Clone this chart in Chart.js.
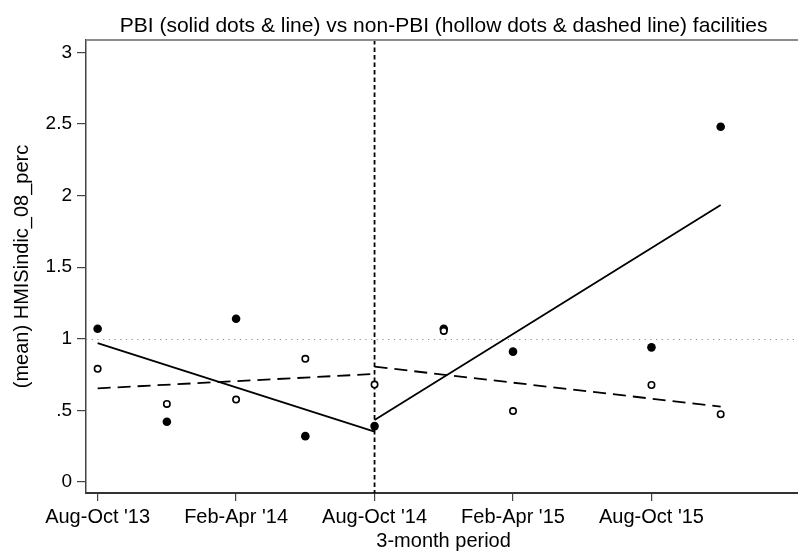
<!DOCTYPE html>
<html>
<head>
<meta charset="utf-8">
<title>HMISindic_08_perc by 3-month period</title>
<script src="https://cdn.jsdelivr.net/npm/chart.js@4.4.1/dist/chart.umd.min.js"></script>
<style>
  html, body { margin: 0; padding: 0; background: #fff; overflow: hidden; }
  #wrap { width: 798px; height: 551px; overflow: hidden; }
  canvas { display: block; }
</style>
</head>
<body>
<div id="wrap"><canvas id="chart" width="806" height="551"></canvas></div>
<script>
// 3-month periods, numbered from Aug-Oct '13 (0) to Nov-Jan '16 (9)
const periodIndex = [0, 1, 2, 3, 4, 5, 6, 7, 8, 9];

// Period means (null = no observation in that period)
const pbiMean    = [1.07, 0.42, 1.14, 0.32, 0.39, 1.07, 0.91, null, 0.94, 2.48];
const nonPbiMean = [0.79, 0.545, 0.575, 0.86, 0.68, 1.055, 0.495, null, 0.677, 0.473];

// Linear fits before and after the start of PBI (period 4)
const fitPrePeriods  = [0, 4];
const fitPostPeriods = [4, 9];
const pbiFitPre     = [0.969, 0.351];
const pbiFitPost    = [0.433, 1.934];
const nonPbiFitPre  = [0.654, 0.754];
const nonPbiFitPost = [0.805, 0.526];

// Reference lines
const interventionPeriod = 4;
const referenceLevel = 1;

// Axis ticks
const xTickPeriods = [0, 2, 4, 6, 8];
const xTickLabels  = ["Aug-Oct '13", "Feb-Apr '14", "Aug-Oct '14", "Feb-Apr '15", "Aug-Oct '15"];
const yTickValues  = [0, 0.5, 1, 1.5, 2, 2.5, 3];
const yTickLabels  = ['0', '.5', '1', '1.5', '2', '2.5', '3'];

const chartTitle = 'PBI (solid dots & line) vs non-PBI (hollow dots & dashed line) facilities';
const FONT = "'Liberation Sans', Arial, sans-serif";

const toPoints = (xs, ys) => xs.map((x, i) => ({ x: x, y: ys[i] })).filter(p => p.y !== null);

// Dotted horizontal reference, dashed vertical intervention line, frame top line and title
const decorations = {
  id: 'decorations',
  beforeDatasetsDraw(chart) {
    const { ctx, chartArea: a, scales: { x, y } } = chart;
    ctx.save();
    ctx.beginPath();
    ctx.rect(a.left, a.top, a.right - a.left, a.bottom - a.top);
    ctx.clip();
    const yr = Math.round(y.getPixelForValue(referenceLevel)) + 0.5;
    ctx.strokeStyle = '#8a8a8a';
    ctx.lineWidth = 1.2;
    ctx.setLineDash([1.2, 4.5]);
    ctx.beginPath();
    ctx.moveTo(a.left, yr);
    ctx.lineTo(a.right, yr);
    ctx.stroke();
    const xv = x.getPixelForValue(interventionPeriod);
    ctx.strokeStyle = '#000';
    ctx.lineWidth = 1.8;
    ctx.setLineDash([4.5, 3]);
    ctx.beginPath();
    ctx.moveTo(xv, a.top);
    ctx.lineTo(xv, a.bottom + 8);
    ctx.stroke();
    ctx.restore();
  },
  afterDraw(chart) {
    const { ctx, chartArea: a } = chart;
    ctx.save();
    ctx.strokeStyle = '#8c8c8c';
    ctx.lineWidth = 2;
    ctx.beginPath();
    ctx.moveTo(a.left, a.top);
    ctx.lineTo(chart.width, a.top);
    ctx.stroke();
    ctx.fillStyle = '#000';
    ctx.font = '21px ' + FONT;
    ctx.textAlign = 'center';
    ctx.textBaseline = 'alphabetic';
    ctx.fillText(chartTitle, (a.left + a.right) / 2, 31.5);
    ctx.restore();
  }
};

const solidDots = {
  pointRadius: 4.3, pointHoverRadius: 4.3, pointBackgroundColor: '#000',
  pointBorderWidth: 0, showLine: false
};
const hollowDots = {
  pointRadius: 3.2, pointHoverRadius: 3.2, pointBackgroundColor: '#fff',
  pointBorderColor: '#000', pointBorderWidth: 1.6, showLine: false
};
const solidFit = { showLine: true, borderColor: '#000', borderWidth: 1.8, pointRadius: 0, fill: false };
const dashedFit = { showLine: true, borderColor: '#000', borderWidth: 1.8, borderDash: [13, 7], pointRadius: 0, fill: false };

new Chart(document.getElementById('chart'), {
  type: 'scatter',
  data: {
    datasets: [
      Object.assign({ label: 'PBI fit (pre)',      data: toPoints(fitPrePeriods,  pbiFitPre) },     solidFit),
      Object.assign({ label: 'PBI fit (post)',     data: toPoints(fitPostPeriods, pbiFitPost) },    solidFit),
      Object.assign({ label: 'non-PBI fit (pre)',  data: toPoints(fitPrePeriods,  nonPbiFitPre) },  dashedFit),
      Object.assign({ label: 'non-PBI fit (post)', data: toPoints(fitPostPeriods, nonPbiFitPost) }, dashedFit),
      Object.assign({ label: 'non-PBI', data: toPoints(periodIndex, nonPbiMean) }, hollowDots),
      Object.assign({ label: 'PBI',     data: toPoints(periodIndex, pbiMean) },    solidDots)
    ]
  },
  options: {
    responsive: false,
    animation: false,
    devicePixelRatio: 1,
    layout: { padding: { top: 40, left: 0, right: 2, bottom: 0 } },
    plugins: { legend: { display: false }, tooltip: { enabled: false }, title: { display: false } },
    scales: {
      x: {
        type: 'linear',
        min: -0.168,
        max: 10.163,
        afterBuildTicks(scale) { scale.ticks = xTickPeriods.map(v => ({ value: v })); },
        afterFit(scale) { scale.height = 58; },
        ticks: {
          autoSkip: false, maxRotation: 0, padding: 4,
          color: '#000', font: { family: FONT, size: 20 },
          callback: (v, i) => xTickLabels[i]
        },
        grid: { drawOnChartArea: false, drawTicks: true, tickLength: 8, tickColor: '#444', lineWidth: 1.2 },
        border: { display: true, color: '#333', width: 2 },
        title: { display: true, text: '3-month period', color: '#000', font: { family: FONT, size: 20, lineHeight: 1 }, padding: { top: 0, bottom: 0 } }
      },
      y: {
        type: 'linear',
        min: -0.077,
        max: 3.086,
        afterBuildTicks(scale) { scale.ticks = yTickValues.map(v => ({ value: v })); },
        afterFit(scale) { scale.width = 86; },
        ticks: {
          autoSkip: false, padding: 5,
          color: '#000', font: { family: FONT, size: 19 },
          callback: (v, i) => yTickLabels[i]
        },
        grid: { drawOnChartArea: false, drawTicks: true, tickLength: 9, tickColor: '#444', lineWidth: 1.2 },
        border: { display: true, color: '#444', width: 1.5 },
        title: { display: true, text: '(mean) HMISindic_08_perc', color: '#000', font: { family: FONT, size: 20, lineHeight: 1 }, padding: { top: 12, bottom: 0 } }
      }
    }
  },
  plugins: [decorations]
});
</script>
</body>
</html>
